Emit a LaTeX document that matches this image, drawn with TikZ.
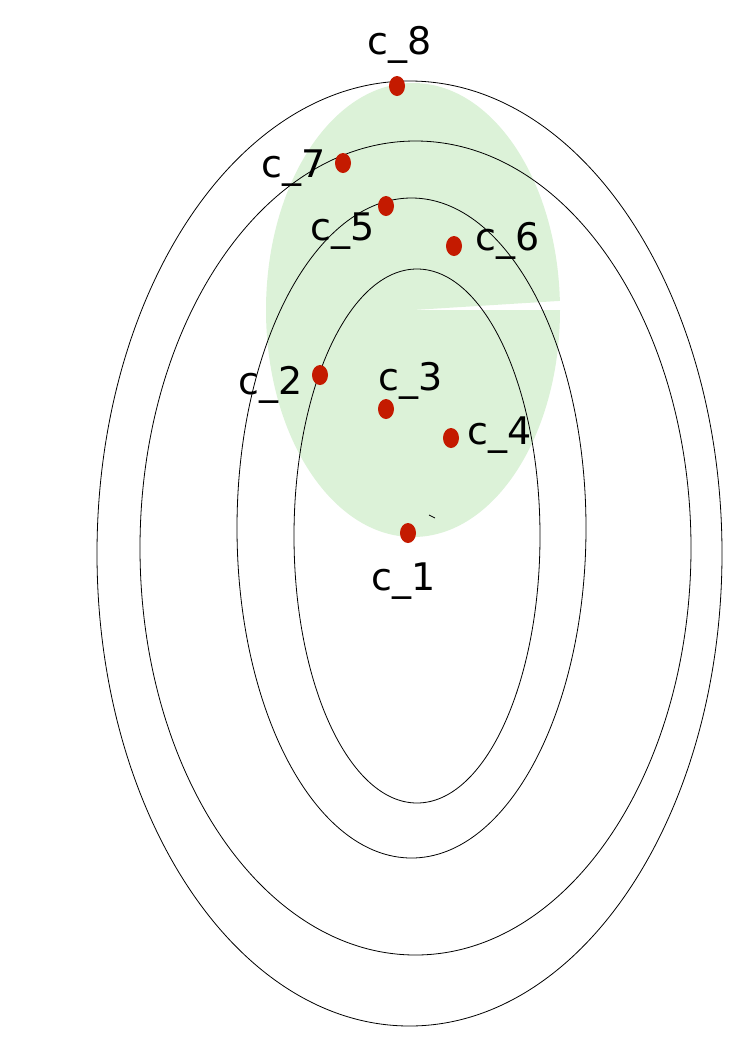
\documentclass[tikz,border=0pt]{standalone}
\usepackage{fontspec}
\setmainfont{DejaVu Sans}
\definecolor{lgreen}{RGB}{220,242,216}
\definecolor{dotred}{RGB}{196,26,0}
\begin{document}
\begin{tikzpicture}[x=1pt,y=-1pt,
  ring/.style={draw=black,line width=0.8pt},
  lbl/.style={font=\fontsize{38}{38}\selectfont,inner sep=0pt,anchor=center}]
\useasboundingbox (0,0) rectangle (745,1053);
\fill[lgreen] (413,310) -- (560,310) arc[start angle=0,end angle=357.7,x radius=147,y radius=227] -- cycle;
\draw[ring] (409.5,553.5) ellipse [x radius=312.5,y radius=472.5];
\draw[ring] (415.5,548) ellipse [x radius=275.5,y radius=407];
\draw[ring] (411.5,528) ellipse [x radius=174.5,y radius=330];
\draw[ring] (417,536) ellipse [x radius=123,y radius=267];
\coordinate (t1) at (429,515);
\coordinate (t2) at (435,518);
\draw[line width=0.8pt] (t1) -- (t2);
\fill[dotred] (397,86) ellipse [x radius=8,y radius=10];
\fill[dotred] (343,163) ellipse [x radius=8,y radius=10];
\fill[dotred] (386,206) ellipse [x radius=8,y radius=10];
\fill[dotred] (454,246) ellipse [x radius=8,y radius=10];
\fill[dotred] (320,375) ellipse [x radius=8,y radius=10];
\fill[dotred] (386,409) ellipse [x radius=8,y radius=10];
\fill[dotred] (451,438) ellipse [x radius=8,y radius=10];
\fill[dotred] (408,533) ellipse [x radius=8,y radius=10];
\node[lbl] (l8) at (400,45) {c\_8};
\node[lbl] (l7) at (294,168) {c\_7};
\node[lbl] (l5) at (343,231) {c\_5};
\node[lbl] (l6) at (508,241) {c\_6};
\node[lbl] (l2) at (271,385) {c\_2};
\node[lbl] (l3) at (411,381) {c\_3};
\node[lbl] (l4) at (500,435) {c\_4};
\node[lbl] (l1) at (404,581) {c\_1};
\end{tikzpicture}
\end{document}
